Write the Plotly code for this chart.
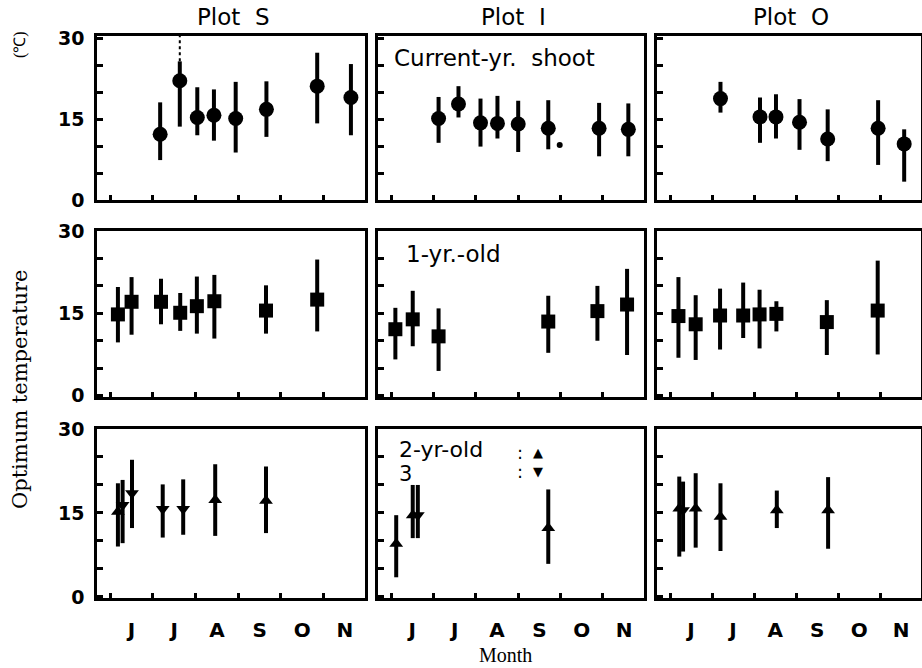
import plotly.graph_objects as go

W, H = 922, 668

# ---------------- data ----------------
# x = month position (6 = 1 June, 7 = 1 July, ... fractional months)
month_ticks = [6, 7, 8, 9, 10, 11]
month_label_pos = [6.5, 7.5, 8.5, 9.5, 10.5, 11.5]
month_labels = ["J", "J", "A", "S", "O", "N"]
y_tick_vals = [0, 15, 30]
y_tick_labels = ["0", "15", "30"]
y_minor_ticks = [5, 10, 20, 25]
plot_names = ["Plot  S", "Plot  I", "Plot  O"]

# Current-year shoot (circles)
S_cur_x = [7.17, 7.63, 8.04, 8.43, 8.94, 9.66, 10.85, 11.64]
S_cur_y = [12.2, 22.1, 15.3, 15.7, 15.1, 16.8, 21.1, 19.0]
S_cur_hi = [18.1, 25.7, 20.9, 20.5, 21.9, 22.0, 27.3, 25.2]
S_cur_lo = [7.4, 13.6, 12.0, 11.0, 8.8, 11.7, 14.2, 12.0]
S_cur_ext_x = [7.63]          # dotted extension of the upper range
S_cur_ext_from = [25.7]
S_cur_ext_to = [30.4]

I_cur_x = [7.12, 7.59, 8.11, 8.51, 9.00, 9.71, 10.91, 11.60]
I_cur_y = [15.1, 17.8, 14.3, 14.2, 14.1, 13.3, 13.3, 13.1]
I_cur_hi = [19.1, 21.1, 18.8, 19.3, 18.4, 18.5, 18.0, 17.9]
I_cur_lo = [10.6, 15.3, 9.9, 11.4, 8.9, 9.4, 8.1, 8.1]
I_cur_dot_x = [9.98]
I_cur_dot_y = [10.2]

O_cur_x = [7.20, 8.14, 8.52, 9.08, 9.75, 10.95, 11.57]
O_cur_y = [18.8, 15.4, 15.4, 14.4, 11.3, 13.3, 10.4]
O_cur_hi = [21.9, 19.0, 19.6, 18.7, 16.8, 18.5, 13.1]
O_cur_lo = [16.2, 10.6, 11.4, 9.3, 7.2, 6.5, 3.4]

# 1-yr-old (squares)
S_1yr_x = [6.18, 6.50, 7.19, 7.64, 8.03, 8.44, 9.65, 10.85]
S_1yr_y = [14.8, 17.1, 17.1, 15.1, 16.3, 17.2, 15.5, 17.5]
S_1yr_hi = [19.8, 21.6, 21.3, 18.7, 21.7, 22.0, 20.1, 24.8]
S_1yr_lo = [9.7, 11.1, 13.0, 11.8, 11.3, 10.4, 11.3, 11.7]

I_1yr_x = [6.10, 6.51, 7.12, 9.71, 10.87, 11.57]
I_1yr_y = [12.1, 13.9, 10.8, 13.5, 15.4, 16.6]
I_1yr_hi = [16.0, 19.1, 15.9, 18.2, 20.0, 23.1]
I_1yr_lo = [6.6, 9.0, 4.5, 7.8, 10.0, 7.4]

O_1yr_x = [6.20, 6.61, 7.19, 7.74, 8.13, 8.53, 9.73, 10.94]
O_1yr_y = [14.5, 13.0, 14.6, 14.6, 14.8, 14.9, 13.4, 15.5]
O_1yr_hi = [21.6, 18.3, 19.5, 20.6, 19.3, 17.2, 17.4, 24.6]
O_1yr_lo = [6.9, 6.5, 8.4, 10.5, 8.6, 11.7, 7.4, 7.5]

# 2-yr-old (up triangles) and 3-yr-old (down triangles)
S_2yr_x = [6.18, 8.46, 9.65]
S_2yr_y = [15.2, 17.3, 17.2]
S_2yr_hi = [20.3, 23.7, 23.3]
S_2yr_lo = [9.0, 10.9, 11.4]
S_3yr_x = [6.29, 6.51, 7.23, 7.71]
S_3yr_y = [16.4, 18.5, 15.7, 15.7]
S_3yr_hi = [20.9, 24.5, 20.1, 21.0]
S_3yr_lo = [9.6, 12.3, 10.6, 11.1]

I_2yr_x = [6.12, 6.51, 9.71]
I_2yr_y = [9.5, 14.6, 12.3]
I_2yr_hi = [14.6, 20.0, 19.2]
I_2yr_lo = [3.5, 10.5, 5.9]
I_3yr_x = [6.63]
I_3yr_y = [14.6]
I_3yr_hi = [20.0]
I_3yr_lo = [10.5]

O_2yr_x = [6.22, 6.61, 7.20, 8.54, 9.76]
O_2yr_y = [15.8, 15.8, 14.3, 15.5, 15.5]
O_2yr_hi = [21.5, 22.1, 20.3, 19.0, 21.4]
O_2yr_lo = [7.2, 8.8, 8.2, 12.3, 8.6]
O_3yr_x = [6.31]
O_3yr_y = [15.5]
O_3yr_hi = [20.6]
O_3yr_lo = [8.1]

# ---------------- layout geometry ----------------
col_px = [(97, 365), (378, 644), (657, 921)]
row_px = [(36, 200), (231, 397), (429, 598)]
y_ranges = [[0, 30.4], [-0.25, 30], [-0.2, 30]]
x_range = [5.69, 11.97]

SANS = "DejaVu Sans"
SERIF = "Liberation Serif"


def px_x(p):
    return p / W


def px_y(p):
    return 1 - p / H


fig = go.Figure()


def add_series(panel, xs, ys, hi, lo, symbol, size):
    n = panel + 1
    xa = "x" if n == 1 else f"x{n}"
    ya = "y" if n == 1 else f"y{n}"
    fig.add_trace(go.Scatter(
        x=xs, y=ys, mode="markers", xaxis=xa, yaxis=ya,
        marker=dict(symbol=symbol, size=size, color="black"),
        error_y=dict(type="data", symmetric=False,
                     array=[h - v for h, v in zip(hi, ys)],
                     arrayminus=[v - l for v, l in zip(ys, lo)],
                     color="black", thickness=4, width=0),
        showlegend=False, hoverinfo="skip"))


# row 1: current-year shoot
add_series(0, S_cur_x, S_cur_y, S_cur_hi, S_cur_lo, "circle", 15)
add_series(1, I_cur_x, I_cur_y, I_cur_hi, I_cur_lo, "circle", 15)
add_series(2, O_cur_x, O_cur_y, O_cur_hi, O_cur_lo, "circle", 15)
for ex, ef, et in zip(S_cur_ext_x, S_cur_ext_from, S_cur_ext_to):
    fig.add_trace(go.Scatter(x=[ex, ex], y=[ef, et], mode="lines",
                             xaxis="x", yaxis="y",
                             line=dict(color="black", width=2, dash="dot"),
                             showlegend=False, hoverinfo="skip"))
fig.add_trace(go.Scatter(x=I_cur_dot_x, y=I_cur_dot_y, mode="markers",
                         xaxis="x2", yaxis="y2",
                         marker=dict(symbol="circle", size=6, color="black"),
                         showlegend=False, hoverinfo="skip"))

# row 2: 1-yr-old
add_series(3, S_1yr_x, S_1yr_y, S_1yr_hi, S_1yr_lo, "square", 14)
add_series(4, I_1yr_x, I_1yr_y, I_1yr_hi, I_1yr_lo, "square", 14)
add_series(5, O_1yr_x, O_1yr_y, O_1yr_hi, O_1yr_lo, "square", 14)

# row 3: 2-yr-old / 3-yr-old
add_series(6, S_2yr_x, S_2yr_y, S_2yr_hi, S_2yr_lo, "triangle-up", 12)
add_series(6, S_3yr_x, S_3yr_y, S_3yr_hi, S_3yr_lo, "triangle-down", 12)
add_series(7, I_2yr_x, I_2yr_y, I_2yr_hi, I_2yr_lo, "triangle-up", 12)
add_series(7, I_3yr_x, I_3yr_y, I_3yr_hi, I_3yr_lo, "triangle-down", 12)
add_series(8, O_2yr_x, O_2yr_y, O_2yr_hi, O_2yr_lo, "triangle-up", 12)
add_series(8, O_3yr_x, O_3yr_y, O_3yr_hi, O_3yr_lo, "triangle-down", 12)

layout = dict(
    width=W, height=H, margin=dict(l=0, r=0, t=0, b=0, autoexpand=False),
    paper_bgcolor="white", plot_bgcolor="white", showlegend=False,
)

for r in range(3):
    for c in range(3):
        n = r * 3 + c + 1
        xk = "xaxis" if n == 1 else f"xaxis{n}"
        yk = "yaxis" if n == 1 else f"yaxis{n}"
        ya_ref = "y" if n == 1 else f"y{n}"
        xa_ref = "x" if n == 1 else f"x{n}"
        bottom = (r == 2)
        left = (c == 0)
        layout[xk] = dict(
            domain=[px_x(col_px[c][0]), px_x(col_px[c][1])],
            range=x_range, anchor=ya_ref, showgrid=False, zeroline=False,
            automargin=False,
            showline=True, mirror=True, linecolor="black", linewidth=2.5,
            tickmode="array", tickvals=month_label_pos,
            ticktext=month_labels if bottom else [""] * 6,
            ticks="", showticklabels=bottom, ticklabelstandoff=12,
            tickfont=dict(family=SANS, size=20, color="black", weight="bold"),
            minor=dict(tickmode="array", tickvals=month_ticks, ticks="inside",
                       ticklen=5, tickwidth=2.5, tickcolor="black"),
            fixedrange=True,
        )
        layout[yk] = dict(
            domain=[px_y(row_px[r][1]), px_y(row_px[r][0])],
            range=y_ranges[r], anchor=xa_ref, showgrid=False, zeroline=False,
            automargin=False,
            showline=True, mirror=True, linecolor="black", linewidth=2.5,
            tickmode="array", tickvals=y_tick_vals, ticktext=y_tick_labels,
            ticks="inside", ticklen=6, tickwidth=2.5, tickcolor="black",
            showticklabels=left, ticklabelstandoff=6,
            tickfont=dict(family=SANS, size=19, color="black", weight="bold"),
            minor=dict(tickmode="array", tickvals=y_minor_ticks, ticks="inside",
                       ticklen=6, tickwidth=2.5, tickcolor="black"),
            fixedrange=True,
        )

annotations = []
for c, name in enumerate(plot_names):
    annotations.append(dict(
        x=px_x((col_px[c][0] + col_px[c][1]) / 2 + 2), y=px_y(17),
        xref="paper", yref="paper", text=name, showarrow=False,
        xanchor="center", yanchor="middle",
        font=dict(family=SANS, size=23, color="black")))

panel_text = [
    ("Current-yr.  shoot", 392, 58, 23),
    ("1-yr.-old", 404, 254, 23),
    ("2-yr-old", 397, 449, 22),
    ("3", 397, 474, 21),
]
for t, xp, yp, s in panel_text:
    annotations.append(dict(
        x=px_x(xp), y=px_y(yp), xref="paper", yref="paper", text=t,
        showarrow=False, xanchor="left", yanchor="middle",
        font=dict(family=SANS, size=s, color="black")))

legend_marks = [(":", 520, 452, 18), (":", 520, 471, 18),
                ("▲", 538, 452, 13), ("▼", 538, 471, 13)]
for t, xp, yp, s in legend_marks:
    annotations.append(dict(
        x=px_x(xp), y=px_y(yp), xref="paper", yref="paper", text=t,
        showarrow=False, xanchor="center", yanchor="middle",
        font=dict(family=SANS, size=s, color="black")))

annotations.append(dict(
    x=px_x(505), y=px_y(655), xref="paper", yref="paper", text="Month",
    showarrow=False, xanchor="center", yanchor="middle",
    font=dict(family=SERIF, size=20, color="black")))
annotations.append(dict(
    x=px_x(20), y=px_y(390), xref="paper", yref="paper",
    text="Optimum temperature", textangle=-90,
    showarrow=False, xanchor="center", yanchor="middle",
    font=dict(family="DejaVu Serif", size=21, color="black")))
annotations.append(dict(
    x=px_x(20), y=px_y(45), xref="paper", yref="paper",
    text="(℃)", textangle=-90,
    showarrow=False, xanchor="center", yanchor="middle",
    font=dict(family=SERIF, size=16, color="black")))

layout["annotations"] = annotations
fig.update_layout(**layout)
fig.write_html("out.html")
